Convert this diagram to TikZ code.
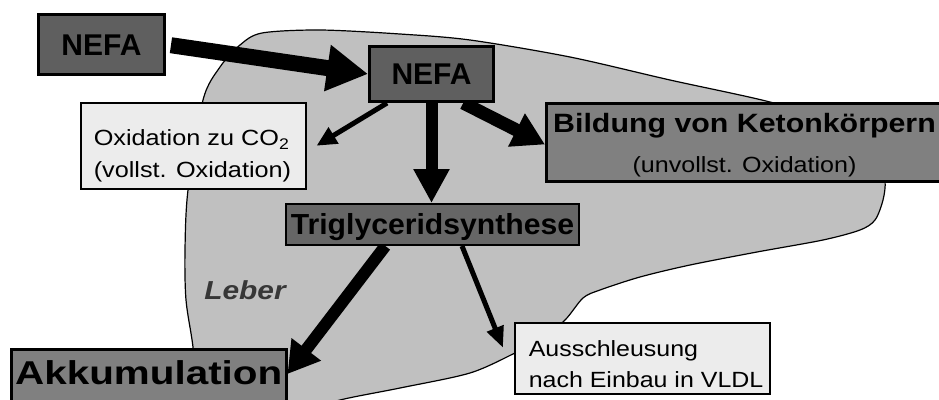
\documentclass[tikz,border=0pt]{standalone}
\usepackage{fontspec}
\setmainfont{Liberation Sans}
\usetikzlibrary{arrows.meta,calc}
\definecolor{liverfill}{RGB}{192,192,192}
\definecolor{darkfill}{RGB}{95,95,95}
\definecolor{trigfill}{RGB}{102,102,102}
\definecolor{midfill}{RGB}{128,128,128}
\definecolor{lightfill}{RGB}{236,236,236}
\definecolor{lebertext}{RGB}{55,55,55}
\pgfdeclarelayer{liverlayer}
\pgfdeclarelayer{arrowlayer}
\pgfsetlayers{liverlayer,arrowlayer,main}
\begin{document}
\begin{tikzpicture}[x=1pt,y=-1pt,
  boxbase/.style={draw=black, inner sep=0pt, anchor=north west},
  darkbox/.style={boxbase, fill=darkfill, line width=3pt},
  trigbox/.style={boxbase, fill=trigfill, line width=2pt},
  midbox/.style={boxbase, fill=midfill, line width=2.5pt},
  lightbox/.style={boxbase, fill=lightfill, line width=1.5pt},
  flow/.style={draw=black, line width=#1},
]
\useasboundingbox (0,0) rectangle (939,399);

% Liver
\begin{pgfonlayer}{liverlayer}
\filldraw[fill=liverfill, draw=black, line width=1.2pt]
  plot[smooth cycle, tension=0.5] coordinates {
  (262,33) (320,30) (400,34) (470,40) (570,57) (670,80) (770,102)
  (845,125) (878,150) (885,180) (883,200) (875,220) (860,230) (823,240)
  (757,252) (690,265) (640,277) (600,290) (583,298) (565,320)
  (540,340) (515,353) (470,373) (400,388) (340,400)
  (290,415) (200,415) (193,347) (186,300) (185,250) (188,190) (203,100)
  (220,67) (240,45)};
\end{pgfonlayer}

% Boxes
\node[darkbox, minimum width=126pt, minimum height=60pt,
      font=\fontsize{30}{36}\selectfont\bfseries, text height=21.5pt, text depth=0pt]
      (nefaA) at (37,13) {NEFA};
\node[darkbox, minimum width=124pt, minimum height=55pt,
      font=\fontsize{30}{36}\selectfont\bfseries, text height=21.5pt, text depth=0pt]
      (nefaB) at (368,45) {NEFA};
\node[lightbox] (ox) at (80,102) {\parbox[c][86pt][t]{225pt}{\fontsize{22}{32}\selectfont\raggedright
   \hspace*{13pt}\rule{0pt}{43pt}\scalebox{1.148}[1]{Oxidation zu CO\textsubscript{2}}\\
   \hspace*{13pt}\scalebox{1.148}[1]{(vollst. Oxidation)}}};
\node[darkbox, fill=midfill] (bild) at (545,102) {\parbox[c][78pt][t]{396pt}{\centering
   {\fontsize{26.5}{40}\selectfont\bfseries\rule{0pt}{29pt}\scalebox{1.145}[1]{Bildung von Ketonkörpern}\par}
   {\fontsize{22}{40}\selectfont\scalebox{1.14}[1]{(unvollst. Oxidation)}\par}}};
\node[trigbox, minimum width=293pt, minimum height=41pt,
      font=\fontsize{29}{34}\selectfont\bfseries, text height=20.8pt, text depth=0pt]
      (trig) at (285,203) {\scalebox{1.04}[1]{Triglyceridsynthese}};
\node[midbox, minimum width=275pt,
      font=\fontsize{33}{40}\selectfont\bfseries, text height=35pt, text depth=35pt]
      (akk) at (10,348) {\scalebox{1.224}[1]{Akkumulation}};
\node[lightbox] (aus) at (514,322) {\parbox[c][71pt][t]{255pt}{\fontsize{22}{31}\selectfont\raggedright
   \hspace*{14pt}\rule{0pt}{34pt}\scalebox{1.135}[1]{Ausschleusung}\\
   \hspace*{14pt}\scalebox{1.135}[1]{nach Einbau in VLDL}}};
\node[inner sep=0pt, text=lebertext, font=\fontsize{26}{30}\selectfont\bfseries\itshape,
      text height=18.6pt, text depth=0pt] (leber) at (245,290) {\scalebox{1.15}[1]{Leber}};

% Arrows
\begin{pgfonlayer}{arrowlayer}
\draw[flow=16pt, -{Triangle[length=41pt,width=44pt]}, shorten <=5pt]
  (nefaA.east) -- (nefaB.west);
\draw[flow=5pt, -{Triangle[length=20pt,width=18pt]}]
  ($(nefaB.south west)!0.15!(nefaB.south east)$) -- ($(ox.east)+(10,0)$);
\draw[flow=12pt, -{Triangle[length=34pt,width=34pt]}]
  (nefaB.south) -- (nefaB.south |- trig.north);
\draw[flow=13pt, -{Triangle[length=32pt,width=35pt]}]
  ($(nefaB.south west)!0.75!(nefaB.south east)$) -- ($(bild.west)+(0,2)$);
\draw[flow=12pt, -{Triangle[length=31pt,width=35pt]}]
  ($(trig.south west)!0.34!(trig.south east)$) -- ($(akk.north east)+(0,26)$);
\draw[flow=5pt, -{Triangle[length=21pt,width=17pt]}]
  ($(trig.south west)!0.6!(trig.south east)$) -- ($(aus.west)+(-11,-10.5)$);
\end{pgfonlayer}
\end{tikzpicture}
\end{document}
